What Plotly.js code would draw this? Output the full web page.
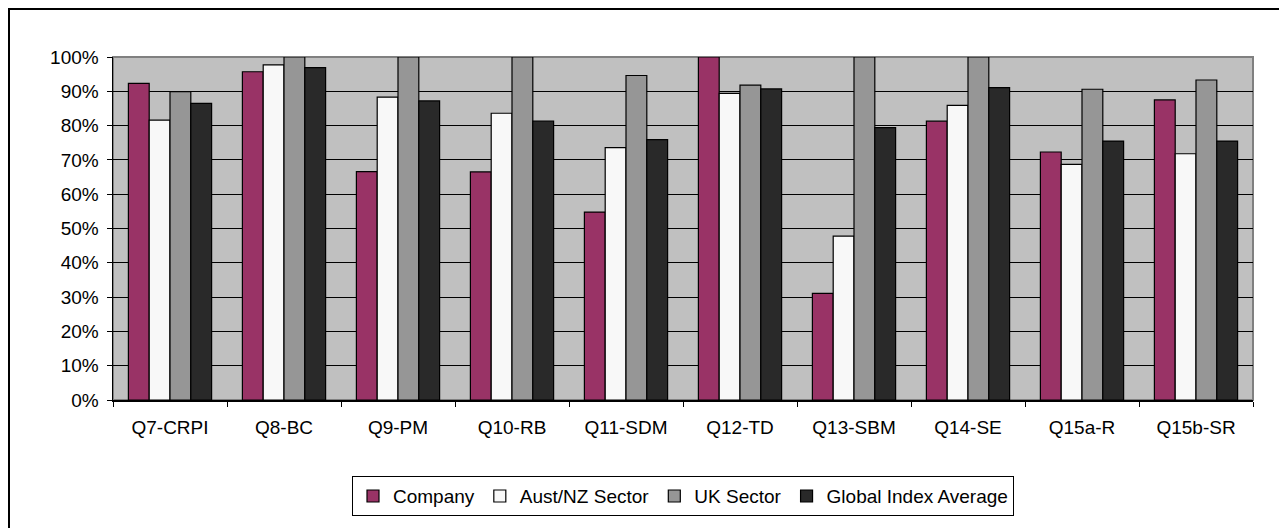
<!DOCTYPE html>
<html>
<head>
<meta charset="utf-8">
<script src="https://cdn.plot.ly/plotly-3.0.1.min.js"></script>
<style>
  html, body { margin: 0; padding: 0; background: #fff; overflow: hidden; }
  #frame { position: absolute; left: 8px; top: 8px; width: 1400px; height: 700px;
           border-left: 2px solid #000; border-top: 2px solid #000; box-sizing: border-box; }
  #chart { position: absolute; left: 0; top: 0; width: 1279px; height: 528px; }
</style>
</head>
<body>
<div id="frame"></div>
<div id="chart"></div>
<script>
  /* categories and series */
  var categories = ['Q7-CRPI', 'Q8-BC', 'Q9-PM', 'Q10-RB', 'Q11-SDM', 'Q12-TD', 'Q13-SBM', 'Q14-SE', 'Q15a-R', 'Q15b-SR'];
  var company   = [0.923, 0.957, 0.666, 0.665, 0.548, 1.000, 0.311, 0.813, 0.723, 0.875];
  var austNZ    = [0.816, 0.977, 0.883, 0.836, 0.736, 0.894, 0.478, 0.859, 0.687, 0.718];
  var ukSector  = [0.899, 1.000, 1.000, 1.000, 0.946, 0.918, 1.000, 1.000, 0.906, 0.933];
  var globalAvg = [0.865, 0.969, 0.872, 0.813, 0.759, 0.907, 0.794, 0.911, 0.755, 0.755];
  var seriesNames = ['Company', 'Aust/NZ Sector', 'UK Sector', 'Global Index Average'];
  var seriesColors = ['#993366', '#f8f8f8', '#969696', '#292929'];
  var yTicks = [0, 0.1, 0.2, 0.3, 0.4, 0.5, 0.6, 0.7, 0.8, 0.9, 1.0];

  var FONT = 'Arial, "Liberation Sans", sans-serif';
  var data = [company, austNZ, ukSector, globalAvg].map(function (vals, i) {
    return {
      type: 'bar', x: categories, y: vals, name: seriesNames[i],
      marker: { color: seriesColors[i], line: { color: '#000', width: 1.2 } },
      hoverinfo: 'skip'
    };
  });

  var layout = {
    width: 1279, height: 528,
    margin: { l: 113, r: 26, t: 57, b: 128 },
    paper_bgcolor: 'rgba(0,0,0,0)',
    plot_bgcolor: '#c0c0c0',
    font: { family: FONT, size: 19, color: '#000' },
    barmode: 'group', bargap: 0.27, bargroupgap: 0,
    showlegend: true,
    legend: {
      orientation: 'h', x: 0.5, xanchor: 'center', xref: 'paper',
      y: -0.222, yanchor: 'top',
      bordercolor: '#000', borderwidth: 1, bgcolor: '#fff',
      font: { family: FONT, size: 19 }, itemwidth: 30, traceorder: 'normal'
    },
    xaxis: {
      type: 'category', showgrid: false, showline: true, linecolor: '#000', linewidth: 1.5,
      ticks: 'outside', tickson: 'boundaries', ticklen: 5, tickcolor: '#000',
      tickfont: { family: FONT, size: 19 }, ticklabelstandoff: 10, fixedrange: true
    },
    yaxis: {
      range: [0, 1], tickvals: yTicks, tickformat: '.0%',
      showgrid: true, gridcolor: '#000', gridwidth: 1,
      showline: true, linecolor: '#000', linewidth: 1.5,
      ticks: 'outside', ticklen: 5, tickcolor: '#000',
      tickfont: { family: FONT, size: 19 }, ticklabelstandoff: 4,
      zeroline: false, fixedrange: true
    },
    shapes: [{
      type: 'rect', xref: 'paper', yref: 'paper', x0: 0, x1: 1, y0: 0, y1: 1,
      line: { color: '#808080', width: 2 }, layer: 'below'
    }]
  };

  Plotly.newPlot('chart', data, layout, { displayModeBar: false, staticPlot: true });
</script>
</body>
</html>
